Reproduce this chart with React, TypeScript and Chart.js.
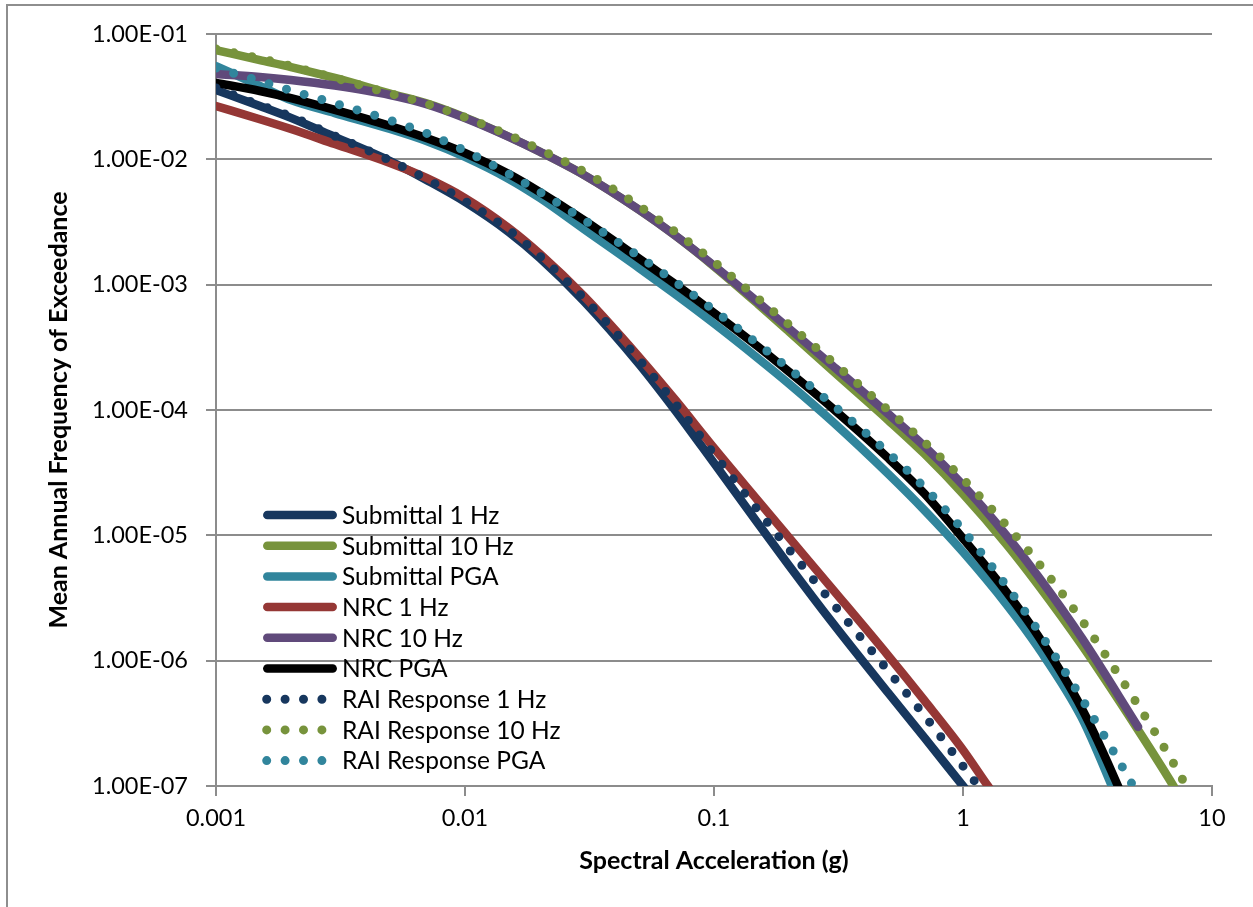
import React, { useEffect, useRef } from 'react';
import { Chart, registerables } from 'chart.js';

Chart.register(...registerables);

// ---- tick values / labels ----
const X_TICKS = [0.001, 0.01, 0.1, 1, 10];
const X_TICK_LABELS = ['0.001', '0.01', '0.1', '1', '10'];
const Y_TICKS = [1e-7, 1e-6, 1e-5, 1e-4, 1e-3, 1e-2, 1e-1];
const Y_TICK_LABELS = ['1.00E-07', '1.00E-06', '1.00E-05', '1.00E-04', '1.00E-03', '1.00E-02', '1.00E-01'];

// ---- series data (spectral acceleration g, mean annual frequency of exceedance) ----
const SUB_1HZ_X = [0.001, 0.0015, 0.002, 0.003, 0.005, 0.007, 0.01, 0.015, 0.02, 0.03, 0.05, 0.07, 0.1, 0.15, 0.2, 0.3, 0.5, 0.7, 1.0, 1.1];
const SUB_1HZ_Y = [0.0357, 0.0266, 0.0214, 0.0151, 0.0097, 0.00684, 0.00457, 0.00263, 0.00163, 7.41e-4, 2.33e-4, 9.89e-5, 3.77e-5, 1.25e-5, 5.75e-6, 1.99e-6, 5.55e-7, 2.43e-7, 1.0e-7, 7.9e-8];

const SUB_10HZ_X = [0.001, 0.0015, 0.002, 0.003, 0.005, 0.007, 0.01, 0.015, 0.02, 0.03, 0.05, 0.07, 0.1, 0.15, 0.2, 0.3, 0.5, 0.7, 1, 1.5, 2, 3, 5, 7, 7.5];
const SUB_10HZ_Y = [0.0745, 0.062, 0.0545, 0.0446, 0.0335, 0.028, 0.0216, 0.01514, 0.0115, 0.00752, 0.00396, 0.00246, 0.0014, 7.02e-4, 4.23e-4, 2.05e-4, 8.32e-5, 4.47e-5, 2.14e-5, 8.41e-6, 4.04e-6, 1.33e-6, 2.88e-7, 1.0e-7, 7.9e-8];

const SUB_PGA_X = [0.001, 0.0015, 0.002, 0.003, 0.005, 0.007, 0.01, 0.015, 0.02, 0.03, 0.05, 0.07, 0.1, 0.15, 0.2, 0.3, 0.5, 0.7, 1, 1.5, 2, 3, 3.96, 4.4];
const SUB_PGA_Y = [0.0555, 0.0385, 0.0297, 0.0234, 0.01746, 0.014, 0.01045, 0.00697, 0.00491, 0.00278, 0.00136, 8.36e-4, 4.9e-4, 2.59e-4, 1.62e-4, 8.04e-5, 3.1e-5, 1.585e-5, 7.36e-6, 2.79e-6, 1.28e-6, 3.5e-7, 1.0e-7, 6.0e-8];

const NRC_1HZ_X = [0.001, 0.0015, 0.002, 0.003, 0.005, 0.007, 0.01, 0.015, 0.02, 0.03, 0.05, 0.07, 0.1, 0.15, 0.2, 0.3, 0.5, 0.7, 1, 1.26, 1.4];
const NRC_1HZ_Y = [0.0266, 0.0209, 0.01746, 0.01324, 0.00935, 0.0071, 0.00491, 0.00283, 0.00176, 8.12e-4, 2.65e-4, 1.2e-4, 4.98e-5, 1.9e-5, 9.62e-6, 3.7e-6, 1.1e-6, 4.81e-7, 1.94e-7, 1.0e-7, 7.5e-8];

const NRC_10HZ_X = [0.001, 0.0015, 0.002, 0.003, 0.005, 0.007, 0.01, 0.015, 0.02, 0.03, 0.05, 0.07, 0.1, 0.15, 0.2, 0.3, 0.5, 0.7, 1, 1.5, 2, 3, 5.05];
const NRC_10HZ_Y = [0.0479, 0.0454, 0.043, 0.0388, 0.0326, 0.0276, 0.0214, 0.01514, 0.0115, 0.00752, 0.00396, 0.00246, 0.001416, 7.26e-4, 4.48e-4, 2.25e-4, 9.33e-5, 5.13e-5, 2.51e-5, 9.89e-6, 4.74e-6, 1.52e-6, 2.96e-7];

const NRC_PGA_X = [0.001, 0.0015, 0.002, 0.003, 0.005, 0.007, 0.01, 0.015, 0.02, 0.03, 0.05, 0.07, 0.1, 0.15, 0.2, 0.3, 0.5, 0.7, 1, 1.5, 2, 3, 4.19, 4.6];
const NRC_PGA_Y = [0.0407, 0.0351, 0.0308, 0.0248, 0.01845, 0.01479, 0.01123, 0.00764, 0.00548, 0.00328, 0.00162, 0.001007, 5.96e-4, 3.21e-4, 2.02e-4, 1.028e-4, 4.14e-5, 2.15e-5, 9.44e-6, 3.5e-6, 1.585e-6, 4.16e-7, 1.0e-7, 6.3e-8];

const RAI_1HZ_X = [0.001, 0.0015, 0.002, 0.003, 0.005, 0.007, 0.01, 0.015, 0.02, 0.03, 0.05, 0.07, 0.1, 0.15, 0.2, 0.3, 0.5, 0.7, 1, 1.15, 1.3];
const RAI_1HZ_Y = [0.0371, 0.0271, 0.022, 0.01535, 0.00979, 0.00697, 0.00465, 0.00273, 0.00169, 7.82e-4, 2.53e-4, 1.12e-4, 4.46e-5, 1.585e-5, 7.73e-6, 2.86e-6, 8.32e-7, 3.65e-7, 1.44e-7, 1.0e-7, 7.0e-8];

const RAI_10HZ_X = [0.001, 0.0015, 0.002, 0.003, 0.005, 0.007, 0.01, 0.015, 0.02, 0.03, 0.05, 0.07, 0.1, 0.15, 0.2, 0.3, 0.5, 0.7, 1, 1.5, 2, 3, 5, 7, 7.87, 8.6];
const RAI_10HZ_Y = [0.0759, 0.0638, 0.0555, 0.0446, 0.0335, 0.0278, 0.0216, 0.0156, 0.01197, 0.00798, 0.00424, 0.00263, 0.00152, 7.78e-4, 4.8e-4, 2.41e-4, 1.0e-4, 5.53e-5, 2.81e-5, 1.19e-5, 6.08e-6, 2.1e-6, 4.54e-7, 1.52e-7, 1.0e-7, 7.3e-8];

const RAI_PGA_X = [0.001, 0.0015, 0.002, 0.003, 0.005, 0.007, 0.01, 0.015, 0.02, 0.03, 0.05, 0.07, 0.1, 0.15, 0.2, 0.3, 0.5, 0.7, 1, 1.5, 2, 3, 4.82, 5.3];
const RAI_PGA_Y = [0.0535, 0.0421, 0.0354, 0.028, 0.0205, 0.01614, 0.0117, 0.00764, 0.00548, 0.0033, 0.00168, 0.00105, 6.25e-4, 3.37e-4, 2.14e-4, 1.1e-4, 4.56e-5, 2.41e-5, 1.1e-5, 3.91e-6, 1.746e-6, 4.97e-7, 1.0e-7, 7.0e-8];

const SERIES_LABELS = [
  'Submittal 1 Hz', 'Submittal 10 Hz', 'Submittal PGA',
  'NRC 1 Hz', 'NRC 10 Hz', 'NRC PGA',
  'RAI Response 1 Hz', 'RAI Response 10 Hz', 'RAI Response PGA',
];
const SERIES_X = [SUB_1HZ_X, SUB_10HZ_X, SUB_PGA_X, NRC_1HZ_X, NRC_10HZ_X, NRC_PGA_X, RAI_1HZ_X, RAI_10HZ_X, RAI_PGA_X];
const SERIES_Y = [SUB_1HZ_Y, SUB_10HZ_Y, SUB_PGA_Y, NRC_1HZ_Y, NRC_10HZ_Y, NRC_PGA_Y, RAI_1HZ_Y, RAI_10HZ_Y, RAI_PGA_Y];

// ---- styles ----
const SERIES_COLORS = ['#17375E', '#77933C', '#31859C', '#953735', '#604A7B', '#000000', '#17375E', '#77933C', '#31859C'];
const SERIES_DOTTED = [false, false, false, false, false, false, true, true, true];
const LINE_W = 8.5;
const DOT_W = 9;
const DOT_GAP = 18.4;
const GRID_COLOR = '#8c8c8c';
const FONT = 'Lato, "Open Sans", sans-serif';

const legendPlugin = {
  id: 'insideLegend',
  afterDatasetsDraw(chart: any) {
    const { ctx, chartArea } = chart;
    const fs = 24.5;
    ctx.save();
    chart.data.datasets.forEach((ds: any, i: number) => {
      const y = chartArea.bottom - 271 + i * 30.7;
      const dotted = SERIES_DOTTED[i];
      ctx.strokeStyle = ds.borderColor;
      ctx.lineCap = 'round';
      ctx.beginPath();
      if (dotted) {
        ctx.lineWidth = DOT_W;
        ctx.setLineDash([0, DOT_GAP]);
        ctx.moveTo(chartArea.left + 50.7, y);
        ctx.lineTo(chartArea.left + 106.5, y);
      } else {
        ctx.lineWidth = LINE_W;
        ctx.setLineDash([]);
        ctx.moveTo(chartArea.left + 51.3, y);
        ctx.lineTo(chartArea.left + 116.7, y);
      }
      ctx.stroke();
      ctx.setLineDash([]);
      ctx.fillStyle = '#000';
      ctx.font = `${fs}px ${FONT}`;
      ctx.textAlign = 'left';
      ctx.textBaseline = 'alphabetic';
      ctx.fillText(ds.label, chartArea.left + 126, y + fs * 0.36);
    });
    ctx.restore();
  },
};

export default function App() {
  const ref = useRef<HTMLCanvasElement | null>(null);

  useEffect(() => {
    if (!ref.current) return;
    const datasets = SERIES_LABELS.map((label, i) => ({
      label,
      data: SERIES_X[i].map((x, j) => ({ x, y: SERIES_Y[i][j] })),
      borderColor: SERIES_COLORS[i],
      backgroundColor: SERIES_COLORS[i],
      borderWidth: SERIES_DOTTED[i] ? DOT_W : LINE_W,
      borderDash: SERIES_DOTTED[i] ? [0, DOT_GAP] : [],
      borderCapStyle: 'round',
      borderJoinStyle: 'round',
      pointRadius: 0,
      pointHoverRadius: 0,
      fill: false,
      cubicInterpolationMode: 'monotone',
      clip: 0,
      order: SERIES_LABELS.length - i,
    }));

    const chart = new Chart(ref.current, {
      type: 'line',
      data: { datasets } as any,
      plugins: [legendPlugin],
      options: {
        animation: false,
        responsive: false,
        devicePixelRatio: 1,
        layout: { padding: { left: 0, top: 34, right: 41, bottom: 0 } },
        plugins: { legend: { display: false }, tooltip: { enabled: false } },
        scales: {
          x: {
            type: 'logarithmic',
            position: 'bottom',
            min: 0.001,
            max: 10,
            afterBuildTicks: (s: any) => {
              s.ticks = X_TICKS.map((v) => ({ value: v }));
            },
            afterFit: (s: any) => {
              s.height = 121;
            },
            ticks: {
              autoSkip: false,
              maxRotation: 0,
              padding: 8,
              color: '#000',
              font: { family: FONT, size: 23.5 },
              callback: (_v: any, i: number) => X_TICK_LABELS[i],
            },
            grid: { drawOnChartArea: false, drawTicks: true, tickLength: 10, color: GRID_COLOR, lineWidth: 2 },
            border: { display: true, color: GRID_COLOR, width: 2 },
            title: {
              display: true,
              text: 'Spectral Acceleration (g)',
              color: '#000',
              font: { family: FONT, size: 25, weight: 'bold' },
              padding: { top: 0, bottom: 31 },
            },
          },
          y: {
            type: 'logarithmic',
            position: 'left',
            min: 1e-7,
            max: 1e-1,
            afterBuildTicks: (s: any) => {
              s.ticks = Y_TICKS.map((v) => ({ value: v }));
            },
            afterFit: (s: any) => {
              s.width = 216;
            },
            ticks: {
              autoSkip: false,
              padding: 18,
              color: '#000',
              font: { family: FONT, size: 23.5 },
              callback: (_v: any, i: number) => Y_TICK_LABELS[i],
            },
            grid: { drawOnChartArea: true, drawTicks: true, tickLength: 10, color: GRID_COLOR, lineWidth: 2 },
            border: { display: true, color: GRID_COLOR, width: 2 },
            title: {
              display: true,
              text: 'Mean Annual Frequency of Exceedance',
              color: '#000',
              font: { family: FONT, size: 25, weight: 'bold' },
              padding: { top: 44, bottom: 0 },
            },
          },
        },
      } as any,
    });
    return () => chart.destroy();
  }, []);

  return (
    <div style={{ position: 'fixed', left: 0, top: 0, width: 1253, height: 907, background: '#fff', overflow: 'hidden' }}>
      <div
        style={{
          position: 'absolute',
          left: 6,
          top: 4,
          width: 1400,
          height: 1100,
          borderLeft: '2px solid #8e8e8e',
          borderTop: '2px solid #8e8e8e',
        }}
      />
      <canvas ref={ref} width={1253} height={907} style={{ position: 'absolute', left: 0, top: 0, width: 1253, height: 907 }} />
    </div>
  );
}
